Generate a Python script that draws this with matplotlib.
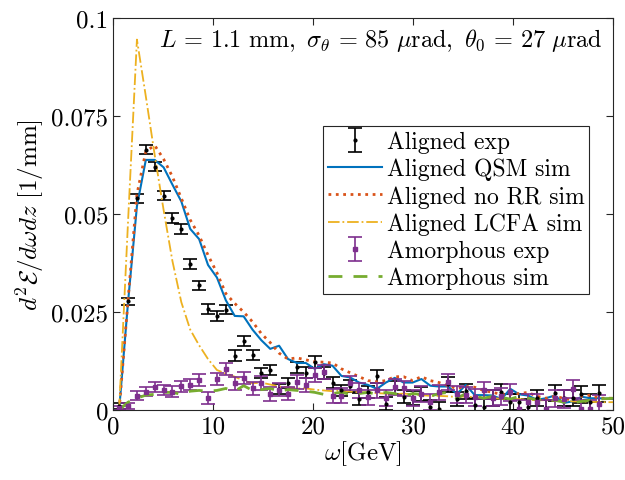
import matplotlib.pyplot as plt

plt.rcParams['font.family'] = 'cmr10'
plt.rcParams['mathtext.fontset'] = 'cm'
plt.rcParams['axes.formatter.use_mathtext'] = True

# photon energy bins (GeV)
omega = [0.6, 1.49, 2.38, 3.27, 4.16, 5.05, 5.93, 6.82, 7.71, 8.6, 9.49, 10.38, 11.27, 12.16,
         13.05, 13.94, 14.82, 15.71, 16.6, 17.49, 18.38, 19.27, 20.16, 21.05, 21.94, 22.83,
         23.71, 24.6, 25.49, 26.38, 27.27, 28.16, 29.05, 29.94, 30.83, 31.72, 32.6, 33.49,
         34.38, 35.27, 36.16, 37.05, 37.94, 38.83, 39.72, 40.61, 41.49, 42.38, 43.27, 44.16,
         45.05, 45.94, 46.83, 47.72, 48.61]
omega_sim = omega + [50.0]

aligned_exp = [0.001, 0.0277, 0.054, 0.0664, 0.0621, 0.0547, 0.049, 0.0462, 0.0372, 0.0318,
               0.0258, 0.024, 0.0256, 0.0139, 0.0176, 0.014, 0.0095, 0.0103, 0.0054, 0.0068,
               0.0109, 0.0095, 0.0122, 0.0095, 0.007, 0.005, 0.0061, 0.0028, 0.0046, 0.0086,
               0.0016, 0.0057, 0.0034, 0.0031, 0.004, 0.0008, 0.0003, 0.0066, 0.0028, 0.0048,
               0.0012, 0.0008, 0.003, 0.0047, 0.002, 0.002, 0.0008, 0.003, 0.0005, 0.0043,
               0.003, 0.003, 0.004, 0.002, 0.0043]
aligned_err = [0.0008, 0.0009, 0.0012, 0.0012, 0.0012, 0.0012, 0.0012, 0.0012, 0.0012, 0.0012,
               0.0012, 0.0012, 0.0012, 0.0013, 0.0013, 0.0013, 0.0013, 0.0013, 0.0013, 0.0013,
               0.0014, 0.0014, 0.0015, 0.0015, 0.0015, 0.0015, 0.0016, 0.0016, 0.0016, 0.0017,
               0.0017, 0.0017, 0.0017, 0.0018, 0.0018, 0.0018, 0.0018, 0.0019, 0.0019, 0.0019,
               0.0019, 0.0019, 0.002, 0.002, 0.002, 0.002, 0.002, 0.002, 0.002, 0.0021,
               0.0021, 0.0021, 0.0021, 0.0022, 0.0022]

amorph_exp = [0.0005, 0.0011, 0.0037, 0.0047, 0.0058, 0.0052, 0.0047, 0.006, 0.0064, 0.0077,
              0.003, 0.0079, 0.0105, 0.0068, 0.0082, 0.0055, 0.0069, 0.0041, 0.0052, 0.0042,
              0.0072, 0.0064, 0.009, 0.0098, 0.0035, 0.0036, 0.0069, 0.005, 0.0032, 0.005,
              0.003, 0.0058, 0.0055, 0.003, 0.004, 0.002, 0.0045, 0.0072, 0.004, 0.0038,
              0.0032, 0.005, 0.003, 0.0035, 0.0045, 0.0003, 0.002, 0.002, 0.0003, 0.003,
              0.0028, 0.0054, 0.0003, 0.0003, 0.0015]
amorph_err = [0.0005, 0.0008, 0.0012, 0.0012, 0.0013, 0.0013, 0.0013, 0.0014, 0.0014, 0.0015,
              0.0015, 0.0015, 0.0016, 0.0016, 0.0016, 0.0016, 0.0017, 0.0017, 0.0017, 0.0017,
              0.0018, 0.0018, 0.0018, 0.0018, 0.0018, 0.0019, 0.0019, 0.0019, 0.0019, 0.0019,
              0.002, 0.002, 0.002, 0.002, 0.002, 0.002, 0.002, 0.0021, 0.0021, 0.0021,
              0.0021, 0.0021, 0.0021, 0.0021, 0.0022, 0.0022, 0.0022, 0.0022, 0.0022, 0.0022,
              0.0022, 0.0023, 0.0023, 0.0023, 0.0023]

qsm_sim = [0.0, 0.0275, 0.052, 0.0638, 0.0638, 0.0619, 0.0575, 0.0532, 0.0462, 0.0436,
           0.037, 0.0338, 0.028, 0.024, 0.0239, 0.0205, 0.0178, 0.0156, 0.0164, 0.013,
           0.012, 0.012, 0.0105, 0.0117, 0.0113, 0.0087, 0.0083, 0.007, 0.0064, 0.0054,
           0.007, 0.0082, 0.007, 0.007, 0.0079, 0.0062, 0.006, 0.006, 0.0041, 0.0064,
           0.0038, 0.0038, 0.0037, 0.0028, 0.0054, 0.004, 0.0037, 0.0026, 0.003, 0.0037,
           0.0018, 0.0022, 0.0034, 0.003, 0.003, 0.0028]
norr_sim = [0.0, 0.028, 0.055, 0.066, 0.0675, 0.064, 0.0595, 0.054, 0.0485, 0.0445,
            0.0395, 0.035, 0.0297, 0.0272, 0.025, 0.0225, 0.0195, 0.0172, 0.0145, 0.013,
            0.0133, 0.0128, 0.0123, 0.0122, 0.012, 0.0105, 0.0095, 0.0085, 0.0075, 0.0072,
            0.0075, 0.0085, 0.0085, 0.0075, 0.0085, 0.0075, 0.007, 0.0062, 0.0055, 0.006,
            0.0058, 0.005, 0.0045, 0.004, 0.004, 0.0042, 0.0045, 0.0035, 0.003, 0.0035,
            0.003, 0.0025, 0.0035, 0.0038, 0.003, 0.003]
lcfa_sim = [0.0, 0.048, 0.0945, 0.08, 0.065, 0.051, 0.038, 0.0275, 0.0205, 0.0165,
            0.013, 0.0102, 0.0093, 0.0085, 0.0075, 0.0068, 0.007, 0.0065, 0.006, 0.0058,
            0.0055, 0.0055, 0.0052, 0.005, 0.0048, 0.005, 0.0047, 0.0045, 0.0045, 0.0043,
            0.0042, 0.004, 0.0042, 0.004, 0.0038, 0.0036, 0.0036, 0.0035, 0.0033, 0.0035,
            0.0032, 0.003, 0.003, 0.0029, 0.0028, 0.0028, 0.0026, 0.0025, 0.0025, 0.0024,
            0.0023, 0.0022, 0.0022, 0.0021, 0.002, 0.002]
amorph_sim = [0.0, 0.002, 0.003, 0.0038, 0.004, 0.0045, 0.0045, 0.004, 0.0048, 0.005,
              0.0048, 0.005, 0.0055, 0.0048, 0.0062, 0.005, 0.0052, 0.0055, 0.0048, 0.0052,
              0.005, 0.0048, 0.0045, 0.004, 0.0042, 0.0045, 0.004, 0.0042, 0.0045, 0.004,
              0.0045, 0.0042, 0.0035, 0.0042, 0.004, 0.0035, 0.0042, 0.0045, 0.003, 0.0042,
              0.0036, 0.003, 0.0035, 0.0032, 0.0028, 0.0035, 0.003, 0.0027, 0.0028, 0.0025,
              0.002, 0.0018, 0.0022, 0.0025, 0.0028, 0.003]

yticks = [0, 0.025, 0.05, 0.075, 0.1]
ytick_labels = ['0', '0.025', '0.05', '0.075', '0.1']
xticks = [0, 10, 20, 30, 40, 50]

fig = plt.figure(figsize=(6.25, 4.81), dpi=100)
ax = fig.add_axes([0.181, 0.1455, 0.8, 0.815])

h1 = ax.errorbar(omega, aligned_exp, yerr=aligned_err, fmt='.', color='black', ms=4,
                 capsize=5, elinewidth=1.2, capthick=1.2, label='Aligned exp')
h2, = ax.plot(omega_sim, qsm_sim, '-', color='#0072BD', lw=1.5, label='Aligned QSM sim')
h3, = ax.plot(omega_sim, norr_sim, ':', color='#D95319', lw=2, label='Aligned no RR sim')
h4, = ax.plot(omega_sim, lcfa_sim, '-.', color='#EDB120', lw=1.3, label='Aligned LCFA sim')
h5 = ax.errorbar(omega, amorph_exp, yerr=amorph_err, fmt='s', color='#7E2F8E', ms=3,
                 capsize=5, elinewidth=1.2, capthick=1.2, label='Amorphous exp')
h6, = ax.plot(omega_sim, amorph_sim, '--', color='#77AC30', lw=2, dashes=(5, 4), label='Amorphous sim')

ax.set_xlim(0, 50)
ax.set_ylim(0, 0.1)
ax.set_xticks(xticks)
ax.set_xticklabels([str(t) for t in xticks])
ax.set_yticks(yticks)
ax.set_yticklabels(ytick_labels)
ax.tick_params(direction='in', top=True, right=True, labelsize=18, length=5, colors='#262626')
for label in ax.get_xticklabels() + ax.get_yticklabels():
    label.set_color('black')
for s in ax.spines.values():
    s.set_color('#262626')
    s.set_linewidth(0.8)

ax.set_xlabel(r'$\omega[\mathrm{GeV}]$', fontsize=18, labelpad=1)
ax.set_ylabel(r'$d^2\mathcal{E}/d\omega dz\ [1/\mathrm{mm}]$', fontsize=18, labelpad=4)

ax.text(0.978, 0.945,
        r'$L\,=\,1.1\ \mathrm{mm},\ \sigma_\theta\,=\,85\ \mu\mathrm{rad},\ \theta_0\,=\,27\ \mu\mathrm{rad}$',
        transform=ax.transAxes, ha='right', va='center', fontsize=17.5)

handles = [h1, h2, h3, h4, h5, h6]
leg = ax.legend(handles, [h.get_label() for h in handles], loc='upper left',
                bbox_to_anchor=(0.42, 0.7245), fontsize=17, frameon=True,
                fancybox=False, edgecolor='#262626', framealpha=1, borderpad=0.2,
                labelspacing=0.2, handlelength=2.3, handletextpad=0.2, borderaxespad=0)
leg.get_frame().set_linewidth(0.8)

fig.savefig('out.png', dpi=100)
